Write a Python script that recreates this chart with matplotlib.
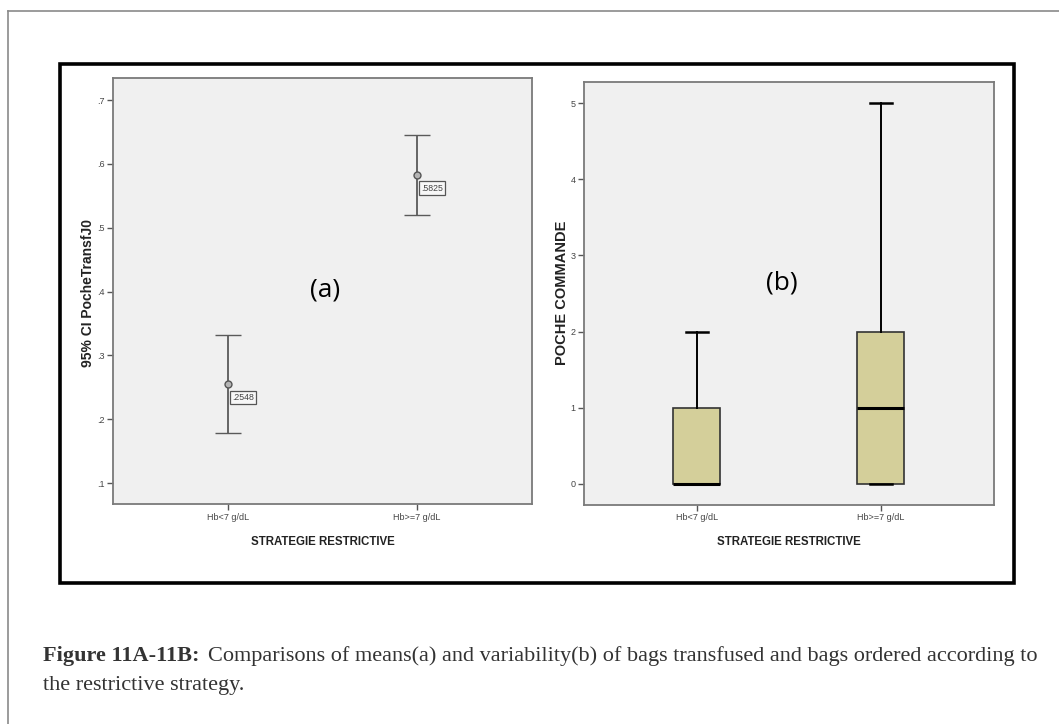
import matplotlib.pyplot as plt
from matplotlib.lines import Line2D
from matplotlib.patches import Rectangle

W, H = 1059, 724

groups = ["Hb<7 g/dL", "Hb>=7 g/dL"]

# (a) mean bags transfused on day 0 with 95% CI
mean_transf = [0.2548, 0.5825]
ci_low = [0.178, 0.520]
ci_high = [0.332, 0.646]
mean_labels = [".2548", ".5825"]
left_ticks = [0.1, 0.2, 0.3, 0.4, 0.5, 0.6, 0.7]

# (b) bags ordered, box plot summary
cmd_whislo = [0, 0]
cmd_q1 = [0, 0]
cmd_med = [0, 1]
cmd_q3 = [1, 2]
cmd_whishi = [2, 5]
right_ticks = [0, 1, 2, 3, 4, 5]

sans = ["Liberation Sans", "DejaVu Sans"]
serif = ["Liberation Serif", "DejaVu Serif"]

fig = plt.figure(figsize=(W / 100, H / 100), dpi=100)


def rect(x0, y0, x1, y1):
    return [x0 / W, 1 - y1 / H, (x1 - x0) / W, (y1 - y0) / H]


def fpt(x, y):
    return x / W, 1 - y / H


# outer page frame and black figure frame
fig.add_artist(Line2D([8 / W, 1], [1 - 11 / H] * 2, color="#8a8a8a", lw=1.2))
fig.add_artist(Line2D([8 / W] * 2, [0, 1 - 11 / H], color="#8a8a8a", lw=1.2))
x0, y0 = fpt(60, 583)
x1, y1 = fpt(1014, 64)
fig.add_artist(Rectangle((x0, y0), x1 - x0, y1 - y0, fill=False,
                         edgecolor="black", lw=2.6))

ax1 = fig.add_axes(rect(112.7, 78.3, 531.7, 504.3))
ax2 = fig.add_axes(rect(584, 82.5, 994, 505))

for ax in (ax1, ax2):
    ax.set_facecolor("#f0f0f0")
    for s in ax.spines.values():
        s.set_color("#7a7a7a")
        s.set_linewidth(1.3)
    ax.tick_params(direction="out", length=4, width=1, color="#555555",
                   labelsize=6.5, labelcolor="#444444", pad=2)

# error bars
yerr = [[m - lo for m, lo in zip(mean_transf, ci_low)],
        [hi - m for m, hi in zip(mean_transf, ci_high)]]
ax1.errorbar([1, 2], mean_transf, yerr=yerr, fmt="o", color="#5a5a5a",
             ecolor="#5a5a5a", elinewidth=1.3, capsize=9.5, capthick=1.6,
             markersize=5, mfc="#b5b5b5", mec="#555555", mew=1)
for x, m, t in zip([1, 2], mean_transf, mean_labels):
    ax1.annotate(t, xy=(x, m), xytext=(4, -13), textcoords="offset pixels",
                 ha="left", va="center", fontsize=6.3, color="#444444",
                 family=sans,
                 bbox=dict(boxstyle="square,pad=0.25", fc="#f7f7f7",
                           ec="#555555", lw=0.9))
ax1.set_xlim(0.386, 2.61)
ax1.set_ylim(0.067, 0.734)
ax1.set_yticks(left_ticks)
ax1.set_yticklabels([f"{v:.1f}".lstrip("0") for v in left_ticks], family=sans)
ax1.set_xticks([1, 2])
ax1.set_xticklabels(groups, family=sans)
ax1.text(0.507, 0.503, "(a)", transform=ax1.transAxes, ha="center",
         va="center", fontsize=19, family=["Open Sans", "DejaVu Sans"])

# box plots
stats = [dict(whislo=a, q1=b, med=c, q3=d, whishi=e, label=g)
         for a, b, c, d, e, g in zip(cmd_whislo, cmd_q1, cmd_med, cmd_q3,
                                     cmd_whishi, groups)]
ax2.bxp(stats, positions=[1, 2], widths=0.253, showfliers=False,
        patch_artist=True, capwidths=0.12,
        boxprops=dict(facecolor="#d4cf9a", edgecolor="#333333", lw=1.2),
        medianprops=dict(color="black", lw=2.2),
        whiskerprops=dict(color="black", lw=1.4),
        capprops=dict(color="black", lw=1.8))
ax2.set_xlim(0.388, 2.615)
ax2.set_ylim(-0.276, 5.27)
ax2.set_yticks(right_ticks)
ax2.set_yticklabels([str(v) for v in right_ticks], family=sans)
ax2.set_xticks([1, 2])
ax2.set_xticklabels(groups, family=sans)
ax2.text(0.483, 0.525, "(b)", transform=ax2.transAxes, ha="center",
         va="center", fontsize=19, family=["Open Sans", "DejaVu Sans"])

# axis titles
lab = dict(fontweight="bold", color="#222222", family=sans,
           ha="center", va="center")
fig.text(*fpt(88, 293), "95% CI PocheTransfJ0", rotation=90, fontsize=10,
         **lab)
fig.text(*fpt(561.7, 293), "POCHE COMMANDE", rotation=90, fontsize=10.5,
         **lab)
fig.text(*fpt(322.5, 541.7), "STRATEGIE RESTRICTIVE", fontsize=8.3, **lab)
fig.text(*fpt(789, 541.7), "STRATEGIE RESTRICTIVE", fontsize=8.3, **lab)

# caption
cap = dict(fontsize=16, color="#333333", family=serif, va="baseline")
head = fig.text(*fpt(43, 660.5), "Figure 11A-11B:", fontweight="bold", **cap)
r = fig.canvas.get_renderer()
bb = head.get_window_extent(r)
fig.text((bb.x1 + 9) / W, 1 - 660.5 / H,
         "Comparisons of means(a) and variability(b) of bags transfused "
         "and bags ordered according to", **cap)
fig.text(*fpt(43, 690), "the restrictive strategy.", **cap)

fig.savefig("out.png", dpi=100)
